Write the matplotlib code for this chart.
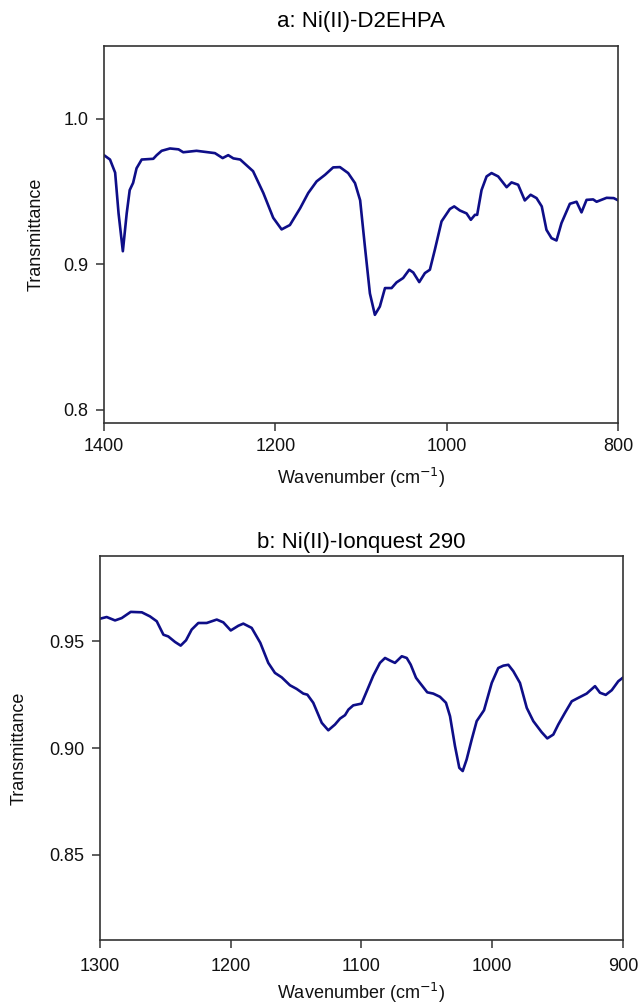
import matplotlib
matplotlib.use("Agg")
import matplotlib.pyplot as plt

plt.rcParams['font.family'] = ['Liberation Sans', 'DejaVu Sans']
plt.rcParams['mathtext.fontset'] = 'custom'
plt.rcParams['mathtext.rm'] = 'Liberation Sans'
plt.rcParams['mathtext.it'] = 'Liberation Sans:italic'

# ---- Panel a: Ni(II)-D2EHPA ----
wn_a = [1400, 1393, 1387, 1383, 1378, 1373.5, 1370, 1366, 1362, 1356, 1342.5, 1338.5,
        1332.7, 1323, 1313, 1307.5, 1292, 1270.5, 1261.5, 1255, 1249, 1241, 1233.5,
        1226, 1214, 1202.5, 1192.7, 1183, 1171, 1161.6, 1151.8, 1142, 1132.5, 1124.6,
        1115, 1107, 1101, 1095.4, 1089.6, 1083.8, 1078, 1072, 1064.3, 1058.5, 1050.8,
        1043.7, 1039, 1032, 1025.4, 1019.6, 1013.8, 1006, 996.3, 991.2, 984.6, 976.8,
        971.8, 967, 964.4, 959.3, 953.4, 947.6, 939.9, 930, 924.3, 916.6, 908.8, 902,
        895.1, 889, 883.5, 877.6, 871.8, 866, 856.2, 848.4, 842.6, 836.7, 829, 825,
        813.3, 805, 800]
tr_a = [0.975, 0.972, 0.963, 0.935, 0.909, 0.935, 0.951, 0.956, 0.966, 0.972, 0.9725, 0.975,
        0.978, 0.9796, 0.979, 0.977, 0.978, 0.9764, 0.973, 0.975, 0.9728, 0.972, 0.968,
        0.964, 0.949, 0.932, 0.924, 0.927, 0.9386, 0.949, 0.957, 0.9615, 0.9666, 0.9668,
        0.9627, 0.9558, 0.944, 0.912, 0.880, 0.8653, 0.871, 0.8837, 0.8837, 0.8876, 0.8906,
        0.8963, 0.8944, 0.8878, 0.894, 0.8963, 0.910, 0.9295, 0.938, 0.9398, 0.937, 0.935,
        0.9306, 0.934, 0.934, 0.951, 0.9604, 0.9627, 0.9604, 0.953, 0.9563, 0.9547, 0.9439, 0.9478,
        0.9455, 0.9398, 0.9237, 0.918, 0.9164, 0.9283, 0.9416, 0.943, 0.9357, 0.9443, 0.9446, 0.943,
        0.9457, 0.9455, 0.944]

# ---- Panel b: Ni(II)-Ionquest 290 ----
wn_b = [1300, 1294.9, 1288.5, 1283.4, 1276.5, 1268, 1261.8, 1256.6, 1251.5, 1247.8, 1242.6,
        1238.3, 1234.2, 1229.9, 1224.8, 1218.4, 1210.7, 1205.7, 1200, 1194.2, 1190.4, 1184,
        1177.4, 1171.3, 1166.2, 1161, 1154.7, 1149.6, 1144.5, 1141.4, 1136.9, 1130.4, 1125.4,
        1120.3, 1116.4, 1112.6, 1110, 1106.3, 1100, 1096, 1091, 1085.9, 1082, 1078.2, 1074.4,
        1069.2, 1065.4, 1062.4, 1058.3, 1055.3, 1049.7, 1045.1, 1040, 1035.4, 1032.3, 1028.5,
        1025.2, 1022.6, 1019.6, 1015.7, 1011.9, 1006.3, 1000.4, 995.4, 991.5, 987.7, 983.9,
        978.8, 973.6, 968.6, 962.2, 957.9, 953.3, 949.5, 944.4, 939.2, 934.2, 927.8, 921.4,
        917.6, 913.2, 908.6, 903.6, 900]
tr_b = [0.9606, 0.9614, 0.9598, 0.9609, 0.9638, 0.9636, 0.9617, 0.9594, 0.9531, 0.9523, 0.9497,
        0.948, 0.9505, 0.9555, 0.9586, 0.9586, 0.9602, 0.9589, 0.9551, 0.9573, 0.9583, 0.9563,
        0.9493, 0.9399, 0.9352, 0.9331, 0.9294, 0.9277, 0.9255, 0.925, 0.9212, 0.9118, 0.9083,
        0.911, 0.9138, 0.9154, 0.918, 0.920, 0.9208, 0.9266, 0.9339, 0.9399, 0.9422, 0.941, 0.9399,
        0.943, 0.9422, 0.9391, 0.9329, 0.9305, 0.9261, 0.9255, 0.924, 0.9212, 0.9149, 0.9009,
        0.8907, 0.8892, 0.8946, 0.904, 0.9126, 0.9177, 0.9305, 0.9375, 0.9386, 0.939, 0.936,
        0.9305, 0.9188, 0.9126, 0.9074, 0.9045, 0.9063, 0.911, 0.9165, 0.9219, 0.9235, 0.9255, 0.929,
        0.9259, 0.9249, 0.9271, 0.9313, 0.9330]

title_a = "a: Ni(II)-D2EHPA"
title_b = "b: Ni(II)-Ionquest 290"
xticks_a = [1400, 1200, 1000, 800]
yticks_a = [0.8, 0.9, 1.0]
xticks_b = [1300, 1200, 1100, 1000, 900]
yticks_b = [0.85, 0.90, 0.95]

W, H = 640, 1005
fig = plt.figure(figsize=(W / 100, H / 100), dpi=100)

line_color = '#0e0e88'
spine_color = '#333333'
xlabel = 'Wavenumber (cm$^{\\mathsf{-1}}$)'


def style(ax):
    for s in ax.spines.values():
        s.set_color(spine_color)
        s.set_linewidth(1.2)
    ax.tick_params(direction='out', length=6, width=1.1, color=spine_color,
                   labelsize=13, pad=5, labelcolor='#111111')
    ax.set_ylabel('Transmittance', fontsize=13, color='#111111')
    ax.set_xlabel(xlabel, fontsize=13, color='#111111')


# top panel
ax1 = fig.add_axes([104 / W, 1 - 423 / H, 514 / W, 377 / H])
ax1.plot(wn_a, tr_a, color=line_color, lw=1.9, solid_joinstyle='round')
ax1.set_xlim(1400, 800)
ax1.set_ylim(0.791, 1.050)
ax1.set_xticks(xticks_a)
ax1.set_yticks(yticks_a)
ax1.set_yticklabels([f"{v:.1f}" for v in yticks_a])
style(ax1)
ax1.xaxis.labelpad = 8
ax1.yaxis.labelpad = 14
ax1.set_title(title_a, fontsize=16, pad=14)

# bottom panel
ax2 = fig.add_axes([100 / W, 1 - 940 / H, 523 / W, 384 / H])
ax2.plot(wn_b, tr_b, color=line_color, lw=1.9, solid_joinstyle='round')
ax2.set_xlim(1300, 900)
ax2.set_ylim(0.81, 0.99)
ax2.set_xticks(xticks_b)
ax2.set_yticks(yticks_b)
ax2.set_yticklabels([f"{v:.2f}" for v in yticks_b])
style(ax2)
ax2.tick_params(axis='x', pad=7)
ax2.xaxis.labelpad = 4
ax2.yaxis.labelpad = 16
ax2.set_title(title_b, fontsize=16, pad=6)

fig.savefig('out.png', dpi=100)
